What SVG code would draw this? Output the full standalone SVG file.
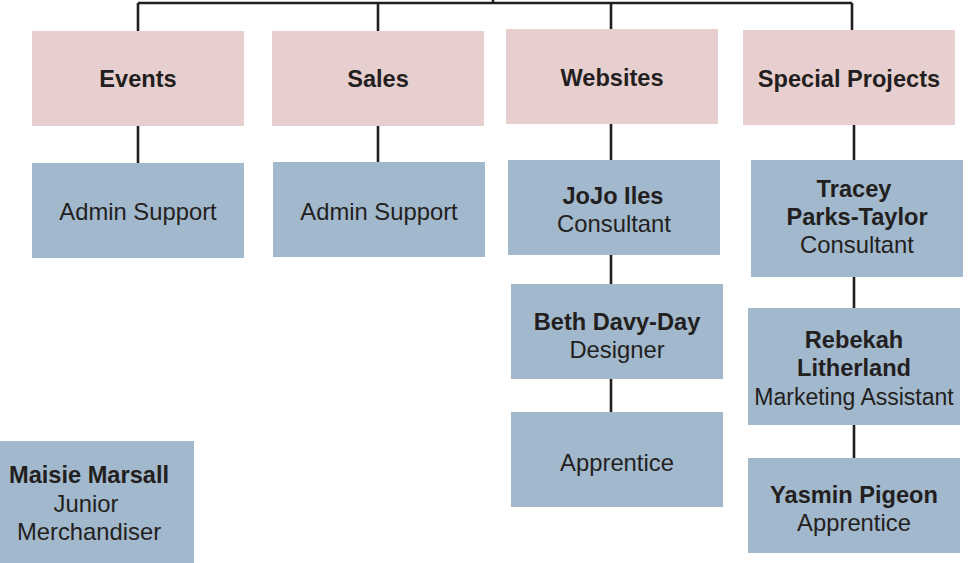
<svg xmlns="http://www.w3.org/2000/svg" width="970" height="563" viewBox="0 0 970 563">
<style>
.dept{fill:#e8cfcf}
.pers{fill:#a2b8cc}
.b{font-family:"Liberation Sans",Arial,sans-serif;font-weight:bold;font-size:23.6px;fill:#231f20;text-anchor:middle}
.r{font-family:"Liberation Sans",Arial,sans-serif;font-size:23.8px;fill:#231f20;text-anchor:middle}
.c{stroke:#231f20;stroke-width:2.6;fill:none}
</style>
<rect width="970" height="563" fill="#ffffff"/>
<g id="connectors" class="c">
<path d="M493 -2V3M138 3H852M138 3V31M378 3V31M611 3V29M852 3V30"/>
<path d="M138 126V163M378 126V162M611 124V160M854 125V160"/>
<path d="M611 255V284M611 379V412M854 277V308M854 425V458"/>
</g>
<g id="events"><rect class="dept" x="32" y="31" width="212" height="95"/><text class="b" x="138" y="87">Events</text></g>
<g id="sales"><rect class="dept" x="272" y="31" width="212" height="95"/><text class="b" x="378" y="87">Sales</text></g>
<g id="websites"><rect class="dept" x="506" y="29" width="212" height="95"/><text class="b" x="612" y="86">Websites</text></g>
<g id="special-projects"><rect class="dept" x="743" y="30" width="212" height="95"/><text class="b" x="849" y="87">Special Projects</text></g>
<g id="events-admin"><rect class="pers" x="32" y="163" width="212" height="95"/><text class="r" x="138" y="220">Admin Support</text></g>
<g id="sales-admin"><rect class="pers" x="273" y="162" width="212" height="95"/><text class="r" x="379" y="220">Admin Support</text></g>
<g id="jojo"><rect class="pers" x="508" y="160" width="212" height="95"/><text class="b" x="613" y="204">JoJo Iles</text><text class="r" x="614" y="232">Consultant</text></g>
<g id="tracey"><rect class="pers" x="751" y="160" width="212" height="117"/><text class="b" x="854" y="197">Tracey</text><text class="b" x="857" y="225">Parks-Taylor</text><text class="r" x="857" y="253">Consultant</text></g>
<g id="beth"><rect class="pers" x="511" y="284" width="212" height="95"/><text class="b" x="617" y="330">Beth Davy-Day</text><text class="r" x="617" y="358">Designer</text></g>
<g id="web-apprentice"><rect class="pers" x="511" y="412" width="212" height="95"/><text class="r" x="617" y="471">Apprentice</text></g>
<g id="rebekah"><rect class="pers" x="748" y="308" width="212" height="117"/><text class="b" x="854" y="348">Rebekah</text><text class="b" x="854" y="376">Litherland</text><text class="r" x="854" y="405" style="font-size:23px">Marketing Assistant</text></g>
<g id="yasmin"><rect class="pers" x="748" y="458" width="212" height="95"/><text class="b" x="854" y="503">Yasmin Pigeon</text><text class="r" x="854" y="531">Apprentice</text></g>
<g id="maisie"><rect class="pers" x="-18" y="441" width="212" height="125"/><text class="b" x="89" y="483">Maisie Marsall</text><text class="r" x="86" y="512">Junior</text><text class="r" x="89" y="540">Merchandiser</text></g>
</svg>
